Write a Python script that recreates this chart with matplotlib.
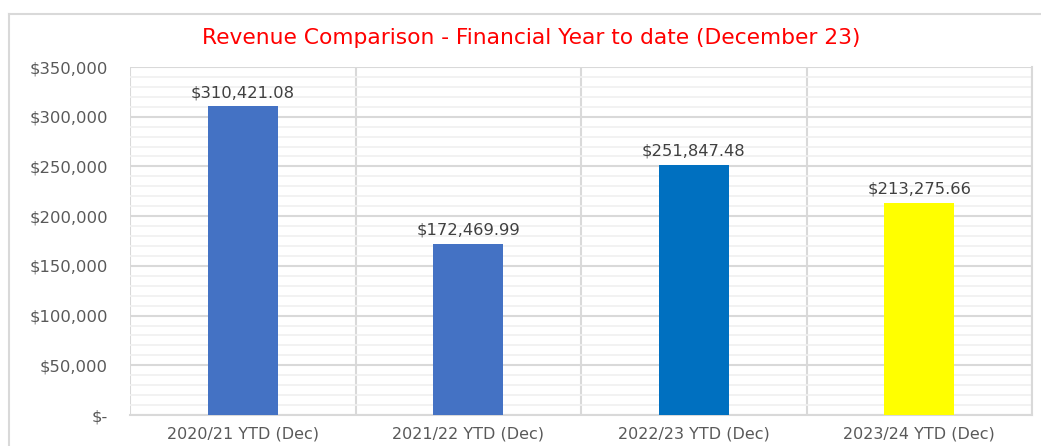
import numpy as np
import matplotlib.pyplot as plt
from matplotlib.lines import Line2D
from matplotlib.ticker import FuncFormatter, MultipleLocator

plt.rcParams['font.family'] = ['DejaVu Sans']

categories = ['2020/21 YTD (Dec)', '2021/22 YTD (Dec)', '2022/23 YTD (Dec)', '2023/24 YTD (Dec)']
revenue = [310421.08, 172469.99, 251847.48, 213275.66]
colors = ['#4472C4', '#4472C4', '#0070C0', '#FFFF00']

fig = plt.figure(figsize=(10.41, 4.46), dpi=100)
# chart frame: only the top and left edges are visible in the crop
top = 1 - 13.5/446
left = 8.5/1041
fig.add_artist(Line2D([left, 1], [top, top], transform=fig.transFigure, color='#D9D9D9', lw=1.5))
fig.add_artist(Line2D([left, left], [0, top], transform=fig.transFigure, color='#D9D9D9', lw=1.5))

ax = fig.add_axes([130/1041, 1 - 415/446, (1032 - 130)/1041, (415 - 67)/446])

x = np.arange(len(categories))
ax.bar(x, revenue, width=0.31, color=colors, zorder=3)
for xi, v in zip(x, revenue):
    ax.text(xi, v + 6000, '${:,.2f}'.format(v), ha='center', va='bottom',
            fontsize=11.8, color='#404040', zorder=4)

ax.set_xlim(-0.5, len(categories) - 0.5)
ax.set_ylim(0, 350000)
ax.yaxis.set_major_locator(MultipleLocator(50000))
ax.yaxis.set_minor_locator(MultipleLocator(10000))
ax.yaxis.set_major_formatter(FuncFormatter(lambda v, p: '$-' if v == 0 else '${:,.0f}'.format(v)))
ax.set_xticks(x)
ax.set_xticklabels(categories)
ax.set_xticks(np.arange(len(categories) + 1) - 0.5, minor=True)

ax.grid(axis='y', which='major', color='#D9D9D9', linewidth=1.5, zorder=0)
ax.grid(axis='y', which='minor', color='#F0F0F0', linewidth=1.2, zorder=0)
ax.grid(axis='x', which='minor', color='#D9D9D9', linewidth=1.5, zorder=0)

for s in ['top', 'left']:
    ax.spines[s].set_visible(False)
for s in ['bottom', 'right']:
    ax.spines[s].set_color('#D9D9D9')
    ax.spines[s].set_linewidth(1.5)
ax.tick_params(which='both', length=0)
ax.tick_params(axis='y', labelsize=11.8, labelcolor='#595959', pad=16)
ax.tick_params(axis='x', labelsize=11.5, labelcolor='#595959', pad=8)

fig.text(531/1041, 1 - 38/446, 'Revenue Comparison - Financial Year to date (December 23)',
         ha='center', va='center', color='#FF0000', fontsize=15.7)

fig.savefig('out.png', dpi=100)
